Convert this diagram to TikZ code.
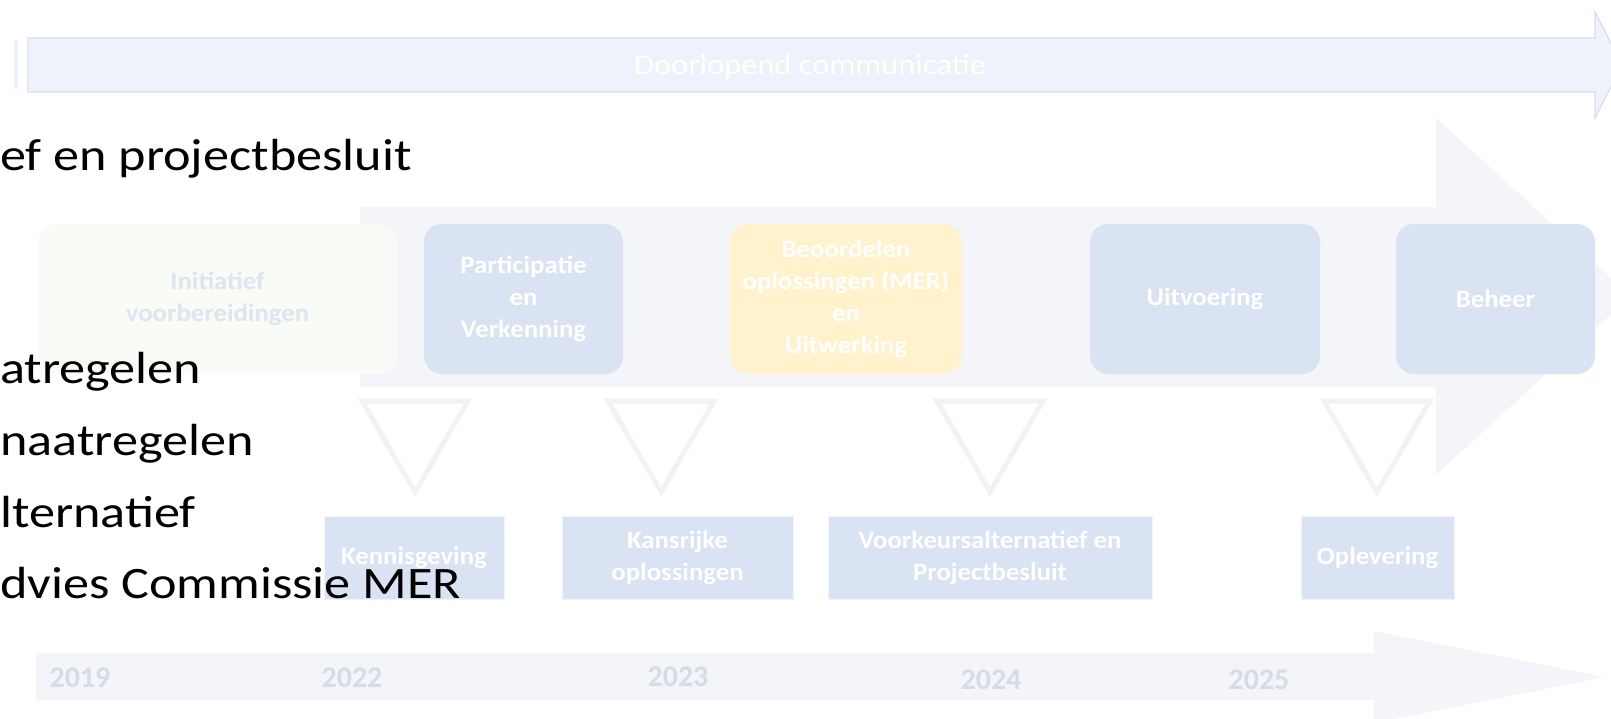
\documentclass[tikz,border=0pt]{standalone}
\usepackage{fontspec}
\setmainfont{Carlito}
\newfontfamily\boxfont[FakeStretch=1.07]{Carlito}
\newfontfamily\commfont[FakeStretch=1.12]{Carlito}
\newfontfamily\listfont[FakeStretch=1.16]{Carlito}
\definecolor{phaseblue}{HTML}{DAE3F3}
\definecolor{bandgray}{HTML}{F4F5F9}
\definecolor{commfill}{HTML}{EEF2FA}
\definecolor{commline}{HTML}{D5DEEF}
\definecolor{markgray}{HTML}{F2F2F2}
\definecolor{yeargray}{HTML}{D6DCE5}
\definecolor{initfill}{HTML}{F9FBF6}
\definecolor{inittext}{HTML}{DEE5F0}
\definecolor{merfill}{HTML}{FFF2CC}
\tikzset{
  phase/.style={draw=none,rounded corners=18pt,fill=phaseblue,text=white,inner sep=0pt,
    minimum height=150pt,align=center,font=\boxfont\bfseries\fontsize{25}{32}\selectfont},
  mile/.style={draw=white!60!phaseblue,line width=1pt,fill=phaseblue,text=white,inner sep=0pt,
    minimum height=83pt,align=center,font=\boxfont\bfseries\fontsize{25}{32}\selectfont},
  year/.style={draw=none,text=yeargray,font=\bfseries\fontsize{30}{36}\selectfont},
  bullet/.style={draw=none,anchor=base west,inner sep=0pt,text=black,font=\listfont\fontsize{45}{54}\selectfont},
  marker/.style={draw=markgray,line width=5pt,fill=none}
}
\begin{document}
\begin{tikzpicture}[x=1pt,y=-1pt]
\useasboundingbox (0,0) rectangle (1611,718);
\clip (0,0) rectangle (1611,718);

\fill[bandgray] (360,207) -- (1436,207) -- (1436,118) -- (1631,296) -- (1436,475) -- (1436,387) -- (360,387) -- cycle;
\fill[commfill] (14,40) rectangle (18,89);
\draw[commline,fill=commfill,line width=1.2pt] (28,38) -- (1595,38) -- (1595,12) -- (1622,65) -- (1595,118) -- (1595,92) -- (28,92) -- cycle;
\fill[bandgray] (36,653) -- (1374,653) -- (1374,631) -- (1605,677) -- (1374,723) -- (1374,700) -- (36,700) -- cycle;
\node[name=comm,draw=none,text=white,font=\commfont\fontsize{29}{34}\selectfont] at (810,67) {Doorlopend communicatie};

\node[name=init,phase,fill=initfill,text=inittext,minimum width=359pt] at (217.5,299) {Initiatief\\voorbereidingen};
\node[name=part,phase,minimum width=199pt] at (523.5,299) {Participatie\\en\\Verkenning};
\node[name=beoord,phase,fill=merfill,minimum width=232pt] at (846,299) {Beoordelen\\oplossingen (MER)\\en\\Uitwerking};
\node[name=uitv,phase,minimum width=230pt] at (1205,299) {Uitvoering};
\node[name=beheer,phase,minimum width=199pt] at (1495.5,299) {Beheer};

\foreach \cx in {415,661,990,1377}
  \draw[marker] (\cx-53,401) -- (\cx+53,401) -- (\cx,492) -- cycle;

\node[name=kennis,mile,minimum width=180pt] at (414,557.5) {Kennisgeving};
\node[name=kansrijk,mile,minimum width=231pt] at (677.5,557.5) {Kansrijke\\oplossingen};
\node[name=voorkeur,mile,minimum width=324pt] at (990,557.5) {Voorkeursalternatief en\\Projectbesluit};
\node[name=oplev,mile,minimum width=153pt] at (1377.5,557.5) {Oplevering};

\node[name=y2019,year] at (80,678) {2019};
\node[name=y2022,year] at (352,678) {2022};
\node[name=y2023,year] at (678,677) {2023};
\node[name=y2024,year] at (991,680) {2024};
\node[name=y2025,year] at (1259,680) {2025};

\node[name=b1,bullet] at (0,170) {ef en projectbesluit};
\node[name=b2,bullet] at (0,383) {atregelen};
\node[name=b3,bullet] at (0,455) {naatregelen};
\node[name=b4,bullet] at (0,527) {lternatief};
\node[name=b5,bullet] at (0,598) {dvies Commissie MER};
\end{tikzpicture}
\end{document}
